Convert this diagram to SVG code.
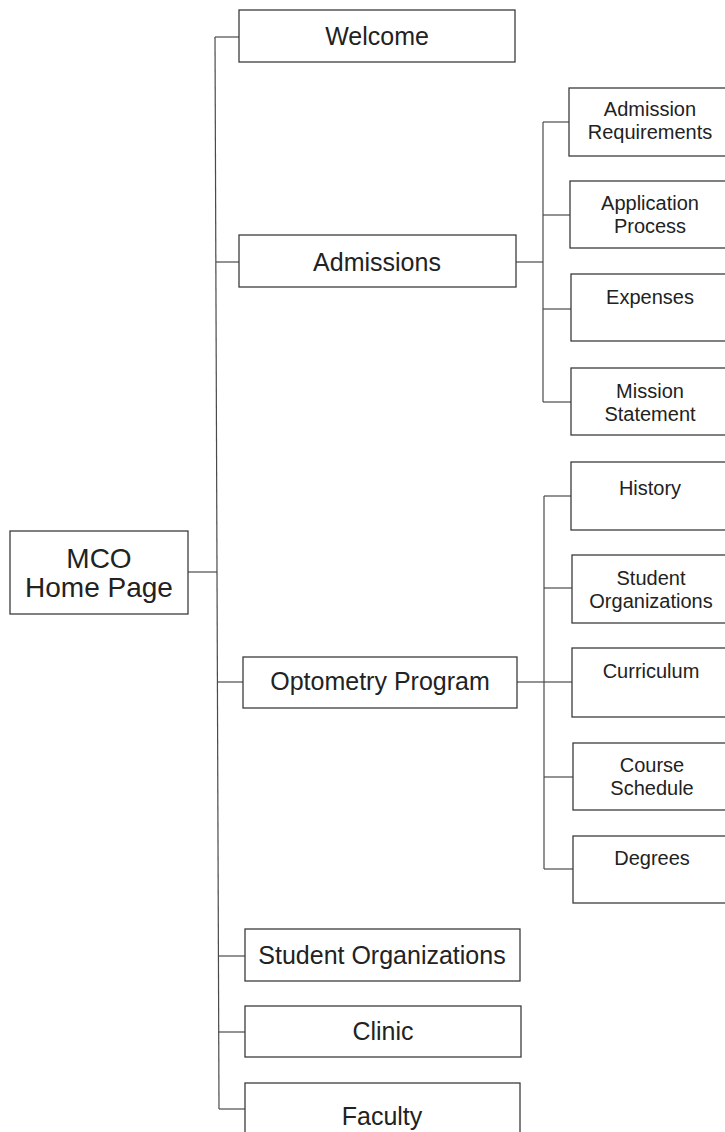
<svg xmlns="http://www.w3.org/2000/svg" width="725" height="1132" viewBox="0 0 725 1132">
<style>
.box{fill:#fff;stroke:#3c3c3c;stroke-width:1.3}
.con{fill:none;stroke:#4a4a4a;stroke-width:1.2}
.t{font-family:"Liberation Sans",Arial,sans-serif;fill:#222;text-anchor:middle}
.m{font-size:25px}
.c{font-size:20px}
.h{font-size:28px}
</style>
<rect width="725" height="1132" fill="#fff"/>
<g id="connectors">
<line class="con" x1="215" y1="37" x2="219" y2="1109"/>
<line class="con" x1="215" y1="37" x2="239" y2="37"/>
<line class="con" x1="216" y1="262" x2="239" y2="262"/>
<line class="con" x1="188" y1="572" x2="217" y2="572"/>
<line class="con" x1="217" y1="682" x2="243" y2="682"/>
<line class="con" x1="218" y1="956" x2="245" y2="956"/>
<line class="con" x1="218" y1="1032" x2="245" y2="1032"/>
<line class="con" x1="219" y1="1109" x2="245" y2="1109"/>
<line class="con" x1="516" y1="262" x2="543" y2="262"/>
<line class="con" x1="543" y1="122" x2="543" y2="402"/>
<line class="con" x1="543" y1="122" x2="569" y2="122"/>
<line class="con" x1="543" y1="215" x2="570" y2="215"/>
<line class="con" x1="543" y1="309" x2="571" y2="309"/>
<line class="con" x1="543" y1="402" x2="571" y2="402"/>
<line class="con" x1="517" y1="682" x2="544" y2="682"/>
<line class="con" x1="544" y1="496" x2="544" y2="869"/>
<line class="con" x1="544" y1="496" x2="571" y2="496"/>
<line class="con" x1="544" y1="588" x2="572" y2="588"/>
<line class="con" x1="544" y1="682" x2="572" y2="682"/>
<line class="con" x1="544" y1="777" x2="573" y2="777"/>
<line class="con" x1="544" y1="869" x2="573" y2="869"/>
</g>
<g id="home"><rect class="box" x="10" y="531" width="178" height="83"/><text class="t h" x="99" y="568">MCO</text><text class="t h" x="99" y="597">Home Page</text></g>
<g id="welcome"><rect class="box" x="239" y="10" width="276" height="52"/><text class="t m" x="377" y="45">Welcome</text></g>
<g id="admissions"><rect class="box" x="239" y="235" width="277" height="52"/><text class="t m" x="377" y="271">Admissions</text></g>
<g id="optometry"><rect class="box" x="243" y="657" width="274" height="51"/><text class="t m" x="380" y="690">Optometry Program</text></g>
<g id="studentorgs"><rect class="box" x="245" y="929" width="275" height="52"/><text class="t m" x="382" y="964">Student Organizations</text></g>
<g id="clinic"><rect class="box" x="245" y="1006" width="276" height="51"/><text class="t m" x="383" y="1040">Clinic</text></g>
<g id="faculty"><rect class="box" x="245" y="1083" width="275" height="62"/><text class="t m" x="382" y="1125">Faculty</text></g>
<g id="admreq"><rect class="box" x="569" y="88" width="170" height="68"/><text class="t c" x="650" y="116">Admission</text><text class="t c" x="650" y="139">Requirements</text></g>
<g id="appproc"><rect class="box" x="570" y="181" width="170" height="67"/><text class="t c" x="650" y="210">Application</text><text class="t c" x="650" y="233">Process</text></g>
<g id="expenses"><rect class="box" x="571" y="274" width="170" height="67"/><text class="t c" x="650" y="304">Expenses</text></g>
<g id="mission"><rect class="box" x="571" y="368" width="170" height="67"/><text class="t c" x="650" y="398">Mission</text><text class="t c" x="650" y="421">Statement</text></g>
<g id="history"><rect class="box" x="571" y="462" width="170" height="68"/><text class="t c" x="650" y="495">History</text></g>
<g id="optstudentorgs"><rect class="box" x="572" y="555" width="170" height="68"/><text class="t c" x="651" y="585">Student</text><text class="t c" x="651" y="608">Organizations</text></g>
<g id="curriculum"><rect class="box" x="572" y="648" width="170" height="69"/><text class="t c" x="651" y="678">Curriculum</text></g>
<g id="schedule"><rect class="box" x="573" y="743" width="170" height="67"/><text class="t c" x="652" y="772">Course</text><text class="t c" x="652" y="795">Schedule</text></g>
<g id="degrees"><rect class="box" x="573" y="836" width="170" height="67"/><text class="t c" x="652" y="865">Degrees</text></g>
</svg>
